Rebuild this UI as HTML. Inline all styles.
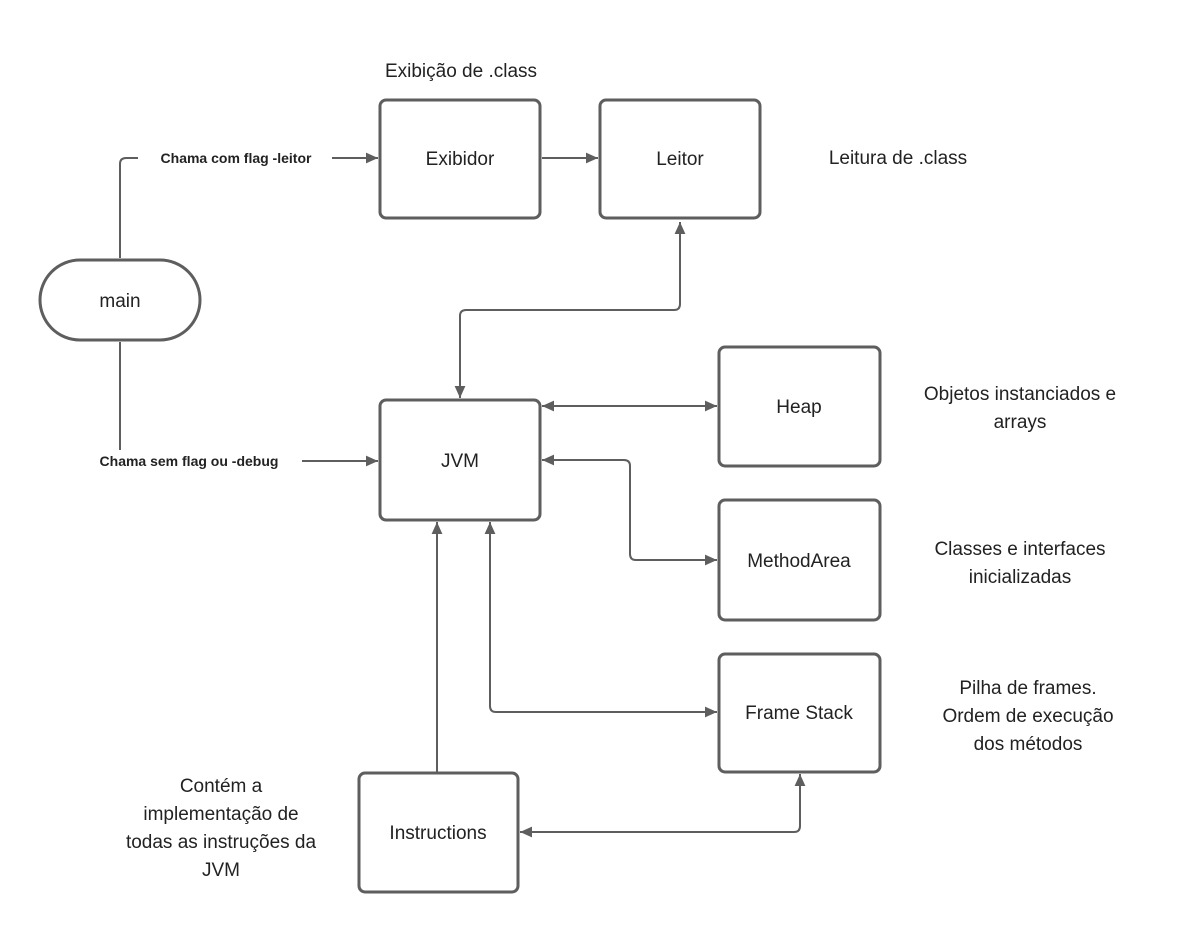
<!DOCTYPE html>
<html><head><meta charset="utf-8"><style>
html,body{margin:0;padding:0;background:#fff;width:1180px;height:942px;overflow:hidden}
svg text{font-family:"Liberation Sans",sans-serif;fill:#222}
</style></head><body>
<svg width="1180" height="942" viewBox="0 0 1180 942" xmlns="http://www.w3.org/2000/svg">
<defs>
<marker id="a" viewBox="0 0 10 10" refX="10" refY="5" markerWidth="10" markerHeight="10" markerUnits="userSpaceOnUse" orient="auto-start-reverse">
<path d="M0,1 L10,5 L0,9 z" fill="#5e5e5e"/></marker>
<marker id="b" viewBox="0 0 10 10" refX="10" refY="5" markerWidth="16" markerHeight="12" markerUnits="userSpaceOnUse" orient="auto-start-reverse">
<path d="M0,0.5 L10,5 L0,9.5 z" fill="#5e5e5e"/></marker>
</defs>
<g fill="none" stroke="#5e5e5e" stroke-width="2">
<!-- boxes -->
<rect x="380" y="100" width="160" height="118" rx="6" stroke-width="3"/>
<rect x="600" y="100" width="160" height="118" rx="6" stroke-width="3"/>
<rect x="40" y="260" width="160" height="80" rx="40" stroke-width="3"/>
<rect x="380" y="400" width="160" height="120" rx="6" stroke-width="3"/>
<rect x="719" y="347" width="161" height="119" rx="6" stroke-width="3"/>
<rect x="719" y="500" width="161" height="120" rx="6" stroke-width="3"/>
<rect x="719" y="654" width="161" height="118" rx="6" stroke-width="3"/>
<rect x="359" y="773" width="159" height="119" rx="6" stroke-width="3"/>
</g>
<g fill="none" stroke="#5e5e5e" stroke-width="2">
<path d="M120,258 V164 Q120,158 126,158 H138"/>
<path d="M332,158 H378" marker-end="url(#b)"/>
<path d="M120,342 V450"/>
<path d="M302,461 H378" marker-end="url(#b)"/>
<path d="M542,158 H598" marker-end="url(#b)"/>
<path d="M680,222 V304 Q680,310 674,310 H466 Q460,310 460,316 V398" marker-start="url(#b)" marker-end="url(#b)"/>
<path d="M542,406 H717" marker-start="url(#b)" marker-end="url(#b)"/>
<path d="M542,460 H624 Q630,460 630,466 V554 Q630,560 636,560 H717" marker-start="url(#b)" marker-end="url(#b)"/>
<path d="M490,522 V706 Q490,712 496,712 H717" marker-start="url(#b)" marker-end="url(#b)"/>
<path d="M437,773 V522" marker-end="url(#b)"/>
<path d="M520,832 H794 Q800,832 800,826 V774" marker-start="url(#b)" marker-end="url(#b)"/>
</g>
<g font-size="19" text-anchor="middle">
<text x="460" y="165">Exibidor</text>
<text x="680" y="165">Leitor</text>
<text x="120" y="307">main</text>
<text x="460" y="467">JVM</text>
<text x="799" y="413">Heap</text>
<text x="799" y="567">MethodArea</text>
<text x="799" y="719">Frame Stack</text>
<text x="438" y="839">Instructions</text>
<text x="461" y="77">Exibição de .class</text>
<text x="898" y="164">Leitura de .class</text>
<text x="1020" y="400">Objetos instanciados e</text>
<text x="1020" y="428">arrays</text>
<text x="1020" y="555">Classes e interfaces</text>
<text x="1020" y="583">inicializadas</text>
<text x="1028" y="694">Pilha de frames.</text>
<text x="1028" y="722">Ordem de execução</text>
<text x="1028" y="750">dos métodos</text>
<text x="221" y="792">Contém  a</text>
<text x="221" y="820">implementação de</text>
<text x="221" y="848">todas as instruções da</text>
<text x="221" y="876">JVM</text>
</g>
<g font-size="14" font-weight="bold" text-anchor="middle">
<text x="236" y="163">Chama com flag -leitor</text>
<text x="189" y="466">Chama sem flag ou -debug</text>
</g>
</svg>
</body></html>
